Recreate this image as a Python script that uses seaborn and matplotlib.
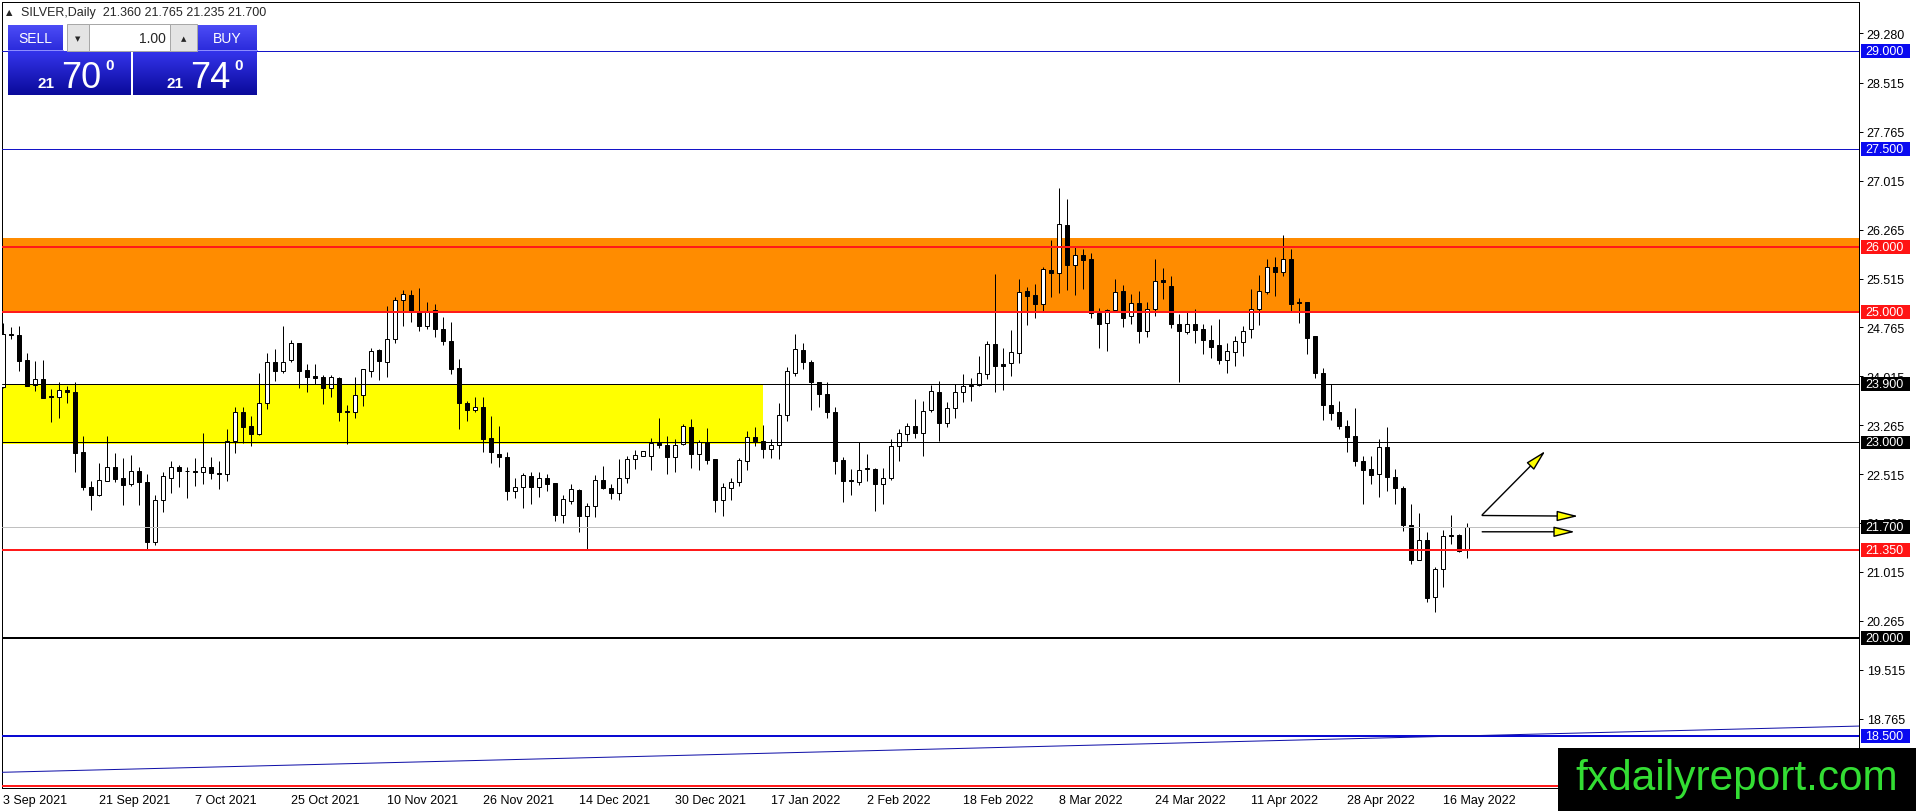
import matplotlib
matplotlib.use("Agg")
import matplotlib.pyplot as plt
import matplotlib.transforms as mtransforms
from matplotlib.patches import Rectangle, FancyArrowPatch, ArrowStyle
from matplotlib.colors import LinearSegmentedColormap
import numpy as np
import pandas as pd
import seaborn as sns

# daily candles, 3 Sep 2021 .. 19 May 2022
opens = [23.85, 24.66, 24.65, 24.26, 23.88, 23.98, 23.71, 23.69, 23.80, 23.78,
         22.85, 22.31, 22.20, 22.41, 22.63, 22.45, 22.37, 22.56, 22.40, 21.47,
         22.11, 22.46, 22.63, 22.56, 22.56, 22.54, 22.62, 22.53, 22.51, 23.03,
         23.46, 23.26, 23.13, 23.61, 24.23, 24.10, 24.27, 24.52, 24.11, 24.02,
         24.00, 23.84, 23.99, 23.48, 23.46, 23.73, 24.09, 24.42, 24.24, 24.58,
         25.19, 25.26, 25.02, 24.78, 25.03, 24.74, 24.56, 24.14, 23.60, 23.50,
         23.55, 23.07, 22.83, 22.78, 22.26, 22.32, 22.48, 22.32, 22.45, 22.38,
         21.89, 22.10, 22.27, 21.87, 22.02, 22.43, 22.30, 22.22, 22.45, 22.75,
         22.80, 22.80, 22.99, 22.96, 22.77, 22.98, 23.24, 22.83, 23.00, 22.74,
         22.12, 22.30, 22.40, 22.72, 23.09, 23.02, 22.90, 22.96, 23.42, 24.07,
         24.42, 24.24, 23.93, 23.75, 23.47, 22.73, 22.43, 22.40, 22.60, 22.60,
         22.37, 22.45, 22.95, 23.13, 23.26, 23.14, 23.50, 23.78, 23.30, 23.53,
         23.78, 23.86, 23.88, 24.05, 24.51, 24.21, 24.22, 24.38, 25.33, 25.26,
         25.13, 25.64, 25.60, 26.33, 25.72, 25.87, 25.81, 24.98, 24.84, 25.03,
         25.33, 24.94, 25.14, 24.71, 25.05, 25.49, 25.40, 24.81, 24.69, 24.81,
         24.74, 24.57, 24.49, 24.26, 24.39, 24.54, 24.74, 25.04, 25.31, 25.69,
         25.61, 25.82, 25.15, 25.15, 24.63, 24.07, 23.57, 23.47, 23.26, 23.10,
         22.72, 22.60, 22.51, 22.93, 22.47, 22.30, 21.74, 21.20, 21.51, 20.63,
         21.06, 21.56, 21.58, 21.36]
highs = [24.84, 24.77, 24.79, 24.37, 24.25, 24.26, 23.82, 23.92, 23.86, 23.92,
         23.10, 22.41, 22.68, 23.10, 22.84, 22.76, 22.81, 22.62, 22.52, 22.19,
         22.54, 22.72, 22.65, 22.63, 22.76, 23.14, 22.77, 22.72, 23.21, 23.54,
         23.54, 23.41, 24.07, 24.38, 24.44, 24.78, 24.57, 24.52, 24.20, 24.20,
         24.03, 24.04, 24.01, 23.57, 24.00, 24.13, 24.45, 24.44, 25.10, 25.23,
         25.34, 25.34, 25.37, 25.16, 25.13, 24.93, 24.85, 24.28, 23.64, 23.70,
         23.69, 23.41, 23.26, 22.86, 22.45, 22.53, 22.55, 22.55, 22.51, 22.38,
         22.19, 22.37, 22.28, 22.07, 22.50, 22.64, 22.37, 22.74, 22.79, 22.89,
         22.87, 23.07, 23.38, 23.10, 23.06, 23.29, 23.36, 23.04, 23.22, 22.74,
         22.38, 22.46, 22.76, 23.17, 23.24, 23.27, 23.06, 23.60, 24.16, 24.66,
         24.53, 24.27, 23.93, 23.93, 23.54, 22.78, 22.59, 23.00, 22.82, 22.61,
         22.61, 23.05, 23.21, 23.30, 23.67, 23.64, 23.88, 23.94, 23.62, 23.89,
         24.05, 23.99, 24.32, 24.56, 25.59, 24.45, 24.72, 25.50, 25.38, 25.43,
         25.69, 26.10, 26.90, 26.73, 26.01, 25.97, 25.90, 25.07, 25.05, 25.50,
         25.41, 25.27, 25.33, 25.15, 25.81, 25.67, 25.55, 24.97, 25.02, 25.04,
         24.81, 24.80, 24.90, 24.52, 24.63, 24.78, 25.35, 25.57, 25.81, 25.84,
         26.19, 25.96, 25.21, 25.15, 24.64, 24.14, 23.89, 23.64, 23.35, 23.53,
         22.80, 22.79, 23.05, 23.23, 22.59, 22.34, 22.06, 21.92, 21.62, 21.09,
         21.65, 21.88, 21.60, 21.765]
lows = [23.83, 24.58, 24.10, 23.86, 23.79, 23.68, 23.32, 23.38, 23.61, 22.54,
        22.27, 21.97, 22.18, 22.41, 22.40, 22.04, 22.34, 22.04, 21.36, 21.42,
        21.94, 22.22, 22.31, 22.15, 22.33, 22.37, 22.44, 22.29, 22.41, 22.84,
        22.99, 22.95, 23.12, 23.52, 23.95, 24.06, 24.24, 23.83, 23.78, 23.90,
        23.59, 23.69, 23.33, 22.97, 23.38, 23.56, 24.00, 23.96, 24.00, 24.53,
        24.79, 24.85, 24.71, 24.74, 24.62, 24.49, 24.05, 23.21, 23.33, 23.47,
        22.86, 22.69, 22.63, 22.12, 22.15, 21.99, 22.06, 22.16, 22.25, 21.80,
        21.77, 22.06, 21.63, 21.36, 21.85, 22.28, 22.13, 22.12, 22.38, 22.59,
        22.80, 22.58, 22.91, 22.51, 22.54, 22.96, 22.61, 22.58, 22.67, 21.93,
        21.87, 22.12, 22.33, 22.58, 22.94, 22.76, 22.76, 22.74, 23.33, 24.02,
        24.12, 23.50, 23.54, 23.37, 22.51, 22.09, 22.19, 22.35, 22.41, 21.95,
        22.05, 22.43, 22.72, 23.02, 23.07, 22.79, 23.47, 23.02, 23.23, 23.37,
        23.62, 23.64, 23.86, 23.98, 23.77, 23.81, 24.02, 24.22, 24.80, 24.91,
        25.02, 25.23, 25.29, 25.34, 25.26, 25.36, 24.91, 24.45, 24.40, 25.02,
        24.77, 24.81, 24.53, 24.62, 24.94, 25.20, 24.75, 23.92, 24.66, 24.52,
        24.36, 24.29, 24.20, 24.07, 24.17, 24.32, 24.61, 24.80, 25.28, 25.24,
        25.56, 25.02, 24.83, 24.36, 23.99, 23.35, 23.35, 23.20, 22.85, 22.64,
        22.06, 22.36, 22.16, 22.26, 22.05, 21.64, 21.13, 21.19, 20.56, 20.40,
        20.79, 21.44, 21.32, 21.235]
closes = [24.66, 24.65, 24.25, 23.86, 23.98, 23.68, 23.69, 23.80, 23.78, 22.84,
          22.32, 22.20, 22.43, 22.62, 22.44, 22.35, 22.57, 22.40, 21.48, 22.11,
          22.48, 22.62, 22.57, 22.565, 22.54, 22.62, 22.53, 22.51, 23.03, 23.46,
          23.23, 23.13, 23.60, 24.23, 24.10, 24.24, 24.52, 24.10, 24.01, 23.99,
          23.83, 24.00, 23.47, 23.46, 23.73, 24.13, 24.40, 24.25, 24.58, 25.19,
          25.27, 25.02, 24.78, 25.02, 24.74, 24.56, 24.12, 23.60, 23.50, 23.55,
          23.05, 22.85, 22.78, 22.25, 22.32, 22.50, 22.32, 22.45, 22.37, 21.89,
          22.14, 22.28, 21.87, 22.03, 22.43, 22.30, 22.22, 22.46, 22.75, 22.81,
          22.87, 22.99, 22.96, 22.78, 22.96, 23.26, 22.83, 23.00, 22.73, 22.12,
          22.31, 22.40, 22.73, 23.09, 23.02, 22.90, 22.96, 23.42, 24.09, 24.43,
          24.24, 23.93, 23.74, 23.47, 22.72, 22.41, 22.41, 22.58, 22.605, 22.37,
          22.46, 22.95, 23.14, 23.25, 23.15, 23.48, 23.79, 23.30, 23.53, 23.78,
          23.87, 23.88, 24.06, 24.51, 24.17, 24.18, 24.39, 25.31, 25.25, 25.12,
          25.66, 25.60, 26.35, 25.72, 25.87, 25.80, 24.98, 24.82, 25.03, 25.31,
          24.91, 25.14, 24.71, 25.05, 25.47, 25.46, 24.82, 24.71, 24.81, 24.73,
          24.57, 24.46, 24.26, 24.41, 24.55, 24.71, 25.04, 25.32, 25.69, 25.61,
          25.82, 25.13, 25.14, 24.60, 24.07, 23.57, 23.45, 23.25, 23.08, 22.72,
          22.58, 22.50, 22.93, 22.47, 22.30, 21.74, 21.20, 21.51, 20.62, 21.06,
          21.56, 21.58, 21.34, 21.70]

date_ticks = [0, 12, 24, 36, 48, 60, 72, 84, 96, 108, 120, 132, 144, 156, 168, 180]
date_labels = ["3 Sep 2021", "21 Sep 2021", "7 Oct 2021", "25 Oct 2021",
               "10 Nov 2021", "26 Nov 2021", "14 Dec 2021", "30 Dec 2021",
               "17 Jan 2022", "2 Feb 2022", "18 Feb 2022", "8 Mar 2022",
               "24 Mar 2022", "11 Apr 2022", "28 Apr 2022", "16 May 2022"]
price_ticks = [18.765, 19.515, 20.265, 21.015, 21.765, 22.515, 23.265, 24.015,
               24.765, 25.515, 26.265, 27.015, 27.765, 28.515, 29.280]

# horizontal levels drawn on the chart
level_prices = [29.0, 27.5, 26.0, 25.0, 23.9, 23.0, 21.7, 21.35, 20.0, 18.5]
level_colors = ["#1414c8", "#1414c8", "#ff1a1a", "#ff1a1a", "#000000",
                "#000000", "#c0c0c0", "#ff1a1a", "#000000", "#0a0ad2"]
level_widths = [1, 1, 2, 2, 1, 1, 1, 2, 2, 2]
label_colors = ["#0a0af0", "#0a0af0", "#ff1414", "#ff1414", "#000000",
                "#000000", "#000000", "#ff1414", "#000000", "#0a0af0"]
floor_price = 17.73

# shaded zones (low, high, last bar)
zone_low = [25.0, 22.97]
zone_high = [26.14, 23.9]
zone_end = [240, 95]
zone_colors = ["#ff8c00", "#ffff00"]

# rising trend line
trend_x = [-0.4, 232.0]
trend_y = [17.94, 18.65]

# projection arrows
arrow_x0 = [184.9, 184.9, 184.9]
arrow_y0 = [21.89, 21.88, 21.63]
arrow_x1 = [192.8, 196.9, 196.5]
arrow_y1 = [22.87, 21.87, 21.63]

W, H = 1916, 812
PX = 0.72  # one pixel in points at dpi 100

sns.set_style("white")
plt.rcParams['font.family'] = ['Liberation Sans', 'DejaVu Sans']

fig = plt.figure(figsize=(W / 100, H / 100), dpi=100)
ax = fig.add_axes([2 / W, (H - 789) / H, 1857 / W, 786.5 / H])
ax.set_xlim(-0.125, 232.0)
ax.set_ylim(17.70, 29.764)

df = pd.DataFrame({"open": opens, "high": highs, "low": lows, "close": closes})
df["x"] = np.arange(len(df))
bull = df["close"] >= df["open"]

# zones
for lo, hi, end, c in zip(zone_low, zone_high, zone_end, zone_colors):
    ax.add_patch(Rectangle((-5, lo), end + 5, hi - lo, facecolor=c,
                           edgecolor="none", zorder=1))

# candles
ax.vlines(df["x"], df["low"], df["high"], color="black", lw=PX, zorder=3)
ax.bar(df["x"], (df["close"] - df["open"]).abs(),
       bottom=df[["open", "close"]].min(axis=1), width=0.56,
       color=np.where(bull, "white", "black"), edgecolor="black",
       linewidth=PX, zorder=4)

# levels
for p, c, w in zip(level_prices, level_colors, level_widths):
    ax.axhline(p, color=c, lw=w * PX, zorder=5)
ax.axhline(floor_price, color="#ff1a1a", lw=2 * PX, zorder=5)

sns.lineplot(x=trend_x, y=trend_y, ax=ax, color="#1010a8", lw=PX, zorder=5)

for x0, y0, x1, y1 in zip(arrow_x0, arrow_y0, arrow_x1, arrow_y1):
    ax.add_patch(FancyArrowPatch(
        (x0, y0), (x1, y1),
        arrowstyle=ArrowStyle("-|>", head_length=13, head_width=3.2),
        mutation_scale=1, facecolor="#ffff00", edgecolor="black",
        lw=1.4 * PX, shrinkA=0, shrinkB=0, zorder=6))

# axes styling
for s in ax.spines.values():
    s.set_color("black")
    s.set_linewidth(PX)
ax.yaxis.tick_right()
ax.set_yticks(price_ticks)
ax.set_yticklabels([f"{v:.3f}" for v in price_ticks])
ax.set_xticks(date_ticks)
ax.set_xticklabels(date_labels, ha="left")
ax.tick_params(axis="y", length=3, width=PX, pad=2.5, labelsize=9,
               colors="black")
ax.tick_params(axis="x", length=3, width=PX, pad=1.5, labelsize=9,
               colors="black")
ax.set_xlabel("")
ax.set_ylabel("")
ax.grid(False)

# overlay in pixel units for the terminal widgets
ov = fig.add_axes([0, 0, 1, 1])
ov.axis("off")
ov.set_zorder(10)


def grad_box(x0, y0, x1, y1, c_top, c_bot):
    cmap = LinearSegmentedColormap.from_list("g", [c_top, c_bot])
    ov.imshow(np.linspace(0, 1, 64)[:, None], extent=(x0, x1, y1, y0),
              cmap=cmap, aspect="auto", zorder=2, interpolation="bilinear")


grad_box(8, 26, 63, 51, "#4c4cf6", "#2c2cdc")
grad_box(197, 26, 257, 51, "#4c4cf6", "#2c2cdc")
grad_box(8, 52, 131, 96, "#3434ec", "#0a0a9a")
grad_box(133, 52, 257, 96, "#3434ec", "#0a0a9a")
for bx in [(67, 89), (170, 197)]:
    ov.add_patch(Rectangle((bx[0], 25), bx[1] - bx[0], 27, facecolor="#e4e4e4",
                           edgecolor="#a8a8a8", lw=PX, zorder=3))
ov.add_patch(Rectangle((89, 25), 81, 27, facecolor="white",
                       edgecolor="#a8a8a8", lw=PX, zorder=3))
ov.plot([8, 63], [50.5, 50.5], color="#8c8cff", lw=PX, zorder=4)
ov.plot([197, 257], [50.5, 50.5], color="#8c8cff", lw=PX, zorder=4)

ov.text(6, 13, "\u25b2", fontsize=6, va="center", family="DejaVu Sans")
ov.text(21, 13, "SILVER,Daily  21.360 21.765 21.235 21.700", fontsize=9,
        va="center")
ov.text(35.5, 39, "SELL", color="white", fontsize=10, ha="center", va="center")
ov.text(227, 39, "BUY", color="white", fontsize=10, ha="center", va="center")
ov.text(78, 39, "\u25bc", fontsize=5, ha="center", va="center",
        family="DejaVu Sans")
ov.text(183.5, 39, "\u25b2", fontsize=5, ha="center", va="center",
        family="DejaVu Sans")
ov.text(166, 39, "1.00", fontsize=10, ha="right", va="center")
for x0, big in [(38, "70"), (167, "74")]:
    ov.text(x0, 88, "21", color="white", fontsize=11, fontweight="bold",
            va="baseline")
    ov.text(x0 + 23, 88.5, big, color="white", fontsize=26, va="baseline")
    ov.text(x0 + 67, 70, "0", color="white", fontsize=11, fontweight="bold",
            va="baseline")

# level price boxes on the right scale
blend = mtransforms.blended_transform_factory(ov.transData, ax.transData)
for p, c in zip(level_prices, label_colors):
    ov.add_patch(Rectangle((1861, p - 0.105), 49, 0.21, facecolor=c,
                           edgecolor="none", transform=blend, zorder=5))
    ov.text(1865, p, f"{p:.3f}", color="white", fontsize=9, va="center",
            transform=blend, zorder=6)

# watermark
ov.add_patch(Rectangle((1558, 749), 358, 63, facecolor="black",
                       edgecolor="none", zorder=7))
ov.text(1737, 790, "fxdailyreport.com", color="#33dd33", fontsize=30.5,
        ha="center", va="baseline", zorder=8)

ov.set_xlim(0, W)
ov.set_ylim(H, 0)

fig.savefig("out.png", dpi=100)
